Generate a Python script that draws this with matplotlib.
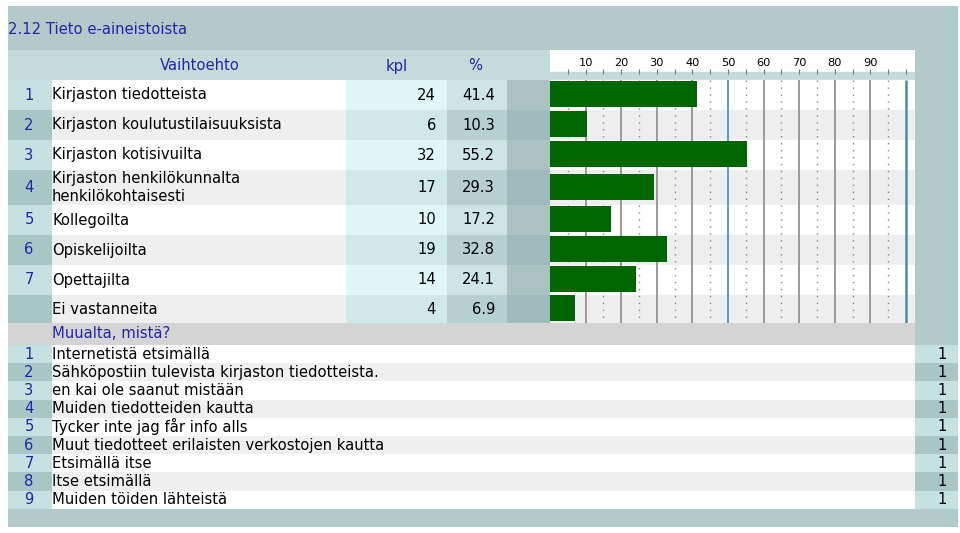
import matplotlib
matplotlib.use("Agg")
import matplotlib.pyplot as plt
from matplotlib.patches import Rectangle

plt.rcParams["font.family"] = ["DejaVu Sans"]

title = "2.12 Tieto e-aineistoista"
header = ["Vaihtoehto", "kpl", "%"]
row_numbers = ["1", "2", "3", "4", "5", "6", "7", ""]
options = [
    "Kirjaston tiedotteista",
    "Kirjaston koulutustilaisuuksista",
    "Kirjaston kotisivuilta",
    "Kirjaston henkilökunnalta\nhenkilökohtaisesti",
    "Kollegoilta",
    "Opiskelijoilta",
    "Opettajilta",
    "Ei vastanneita",
]
counts = [24, 6, 32, 17, 10, 19, 14, 4]
percents = [41.4, 10.3, 55.2, 29.3, 17.2, 32.8, 24.1, 6.9]
scale_ticks = [10, 20, 30, 40, 50, 60, 70, 80, 90]

other_title = "Muualta, mistä?"
other_answers = [
    "Internetistä etsimällä",
    "Sähköpostiin tulevista kirjaston tiedotteista.",
    "en kai ole saanut mistään",
    "Muiden tiedotteiden kautta",
    "Tycker inte jag får info alls",
    "Muut tiedotteet erilaisten verkostojen kautta",
    "Etsimällä itse",
    "Itse etsimällä",
    "Muiden töiden lähteistä",
]
other_counts = [1, 1, 1, 1, 1, 1, 1, 1, 1]

# layout in pixels
W, H = 960, 533
X0, X_NUM, X_KPL, X_PCT, X_DARK, X_CHART, X_RIGHT, X1 = 8, 52, 346, 447, 507, 550, 915, 958
row_edges = [80, 110, 140, 170, 205, 235, 265, 295, 323]
other_top = 345
other_h = 18.2
px_per_pct = 3.56

TEAL = "#b1caca"
HEAD = "#c3dbdb"
BLUE_TXT = "#2424a8"
FS = 10.6

fig = plt.figure(figsize=(W / 100, H / 100), dpi=100)
ax = fig.add_axes([0, 0, 1, 1])
ax.set_xlim(0, W)
ax.set_ylim(H, 0)
ax.axis("off")


def cell(x0, x1, y0, y1, color):
    ax.add_patch(Rectangle((x0, y0), x1 - x0, y1 - y0, facecolor=color, edgecolor="none"))


# title band and header
cell(X0, X1, 6, 50, TEAL)
cell(X0, X_CHART, 50, 80, HEAD)
cell(X_RIGHT, X1, 50, 323, TEAL)
ax.text(X0, 29, title, color=BLUE_TXT, fontsize=FS, va="center", ha="left")
ax.text(200, 66, header[0], color=BLUE_TXT, fontsize=FS, va="center", ha="center")
ax.text(397, 66, header[1], color=BLUE_TXT, fontsize=FS, va="center", ha="center")
ax.text(475, 66, header[2], color=BLUE_TXT, fontsize=FS, va="center", ha="center")

light = {"num": "#c6e1e1", "lab": "#ffffff", "kpl": "#e0f7f7", "pct": "#cce5e5", "dark": "#a9c3c3"}
dark = {"num": "#a9c6c6", "lab": "#efefef", "kpl": "#cfe9e9", "pct": "#b6d0d0", "dark": "#9fbaba"}

for i, (num, label, n, p) in enumerate(zip(row_numbers, options, counts, percents)):
    y0, y1 = row_edges[i], row_edges[i + 1]
    yc = (y0 + y1) / 2
    c = light if i % 2 == 0 else dark
    cell(X0, X_NUM, y0, y1, c["num"])
    cell(X_NUM, X_KPL, y0, y1, c["lab"])
    cell(X_KPL, X_PCT, y0, y1, c["kpl"])
    cell(X_PCT, X_DARK, y0, y1, c["pct"])
    cell(X_DARK, X_CHART, y0, y1, c["dark"])
    ax.text(29, yc, num, color=BLUE_TXT, fontsize=FS, va="center", ha="center")
    ax.text(X_NUM, yc, label, color="black", fontsize=FS, va="center", ha="left", linespacing=1.28)
    ax.text(436, yc, f"{n}", color="black", fontsize=FS, va="center", ha="right")
    ax.text(495, yc, f"{p:.1f}", color="black", fontsize=FS, va="center", ha="right")

# "Muualta" section
cell(X0, X_RIGHT, 323, other_top, "#d4d4d4")
cell(X_RIGHT, X1, 323, other_top, TEAL)
ax.text(X_NUM, 334, other_title, color=BLUE_TXT, fontsize=FS, va="center", ha="left")

for i, (answer, n) in enumerate(zip(other_answers, other_counts)):
    y0 = other_top + i * other_h
    y1 = y0 + other_h
    yc = (y0 + y1) / 2
    side = "#c6e1e1" if i % 2 == 0 else "#a9c6c6"
    mid = "#ffffff" if i % 2 == 0 else "#f0f0f0"
    cell(X0, X_NUM, y0, y1, side)
    cell(X_NUM, X_RIGHT, y0, y1, mid)
    cell(X_RIGHT, X1, y0, y1, side)
    ax.text(29, yc, str(i + 1), color=BLUE_TXT, fontsize=FS, va="center", ha="center")
    ax.text(X_NUM, yc, answer, color="black", fontsize=FS, va="center", ha="left")
    ax.text(947, yc, f"{n}", color="black", fontsize=FS, va="center", ha="right")

foot_top = other_top + len(other_answers) * other_h
cell(X0, X1, foot_top, foot_top + 18, TEAL)

# bar chart region, y in pixels, x in percent
bx = fig.add_axes([X_CHART / W, 1 - 323 / H, (X_RIGHT - X_CHART) / W, (323 - 50) / H])
bx.set_xlim(0, (X_RIGHT - X_CHART) / px_per_pct)
bx.set_ylim(323, 50)
bx.axhspan(50, 72, color="white", zorder=0)
bx.axhspan(72, 80, color=HEAD, zorder=0)
for i in range(len(percents)):
    bx.axhspan(row_edges[i], row_edges[i + 1], color="white" if i % 2 == 0 else "#eeeeee", zorder=0)

bx.vlines([v + 5 for v in [0] + scale_ticks], 80, 323, colors="#888888", linestyles=(0, (1, 4)), linewidth=1.0, zorder=1)
bx.vlines([v for v in scale_ticks if v != 50], 80, 323, colors="#9a9a9a", linewidth=1.4, zorder=1)
bx.vlines([50], 80, 323, colors="#3a8cc4", linewidth=1.2, zorder=1)
bx.vlines([100], 80, 323, colors="#4f8aa6", linewidth=1.8, zorder=1)
bx.vlines([v for v in range(5, 101, 5)], 69, 74, colors="#777777", linewidth=0.8, zorder=2)

centers = [(row_edges[i] + row_edges[i + 1]) / 2 - 1 for i in range(len(percents))]
bx.barh(centers, percents, height=26, left=0, color="#006600", zorder=3)

for v in scale_ticks:
    bx.text(v, 62.5, str(v), fontsize=8.2, ha="center", va="center", color="black")
bx.axis("off")

fig.savefig("out.png", dpi=100)
